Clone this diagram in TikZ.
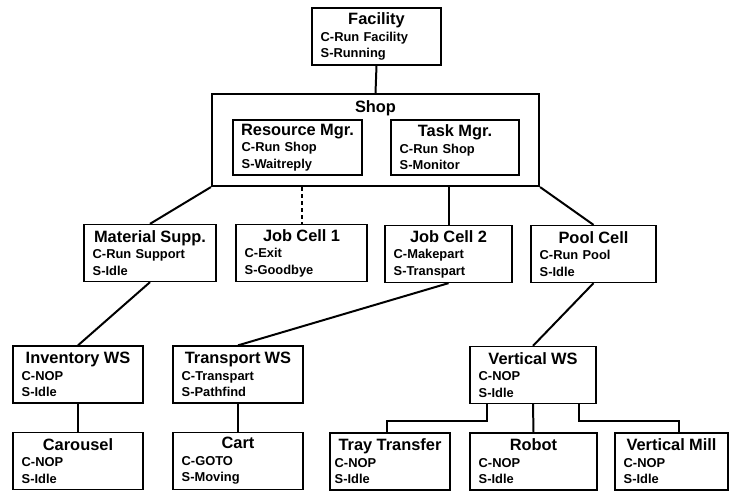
\documentclass[tikz,border=0pt]{standalone}
\usepackage{fontspec}
\setmainfont{Liberation Sans}
\newcommand{\ttlfont}{\fontsize{14}{16}\selectfont\bfseries}
\newcommand{\unitbody}[3]{\makebox[\linewidth][c]{\ttlfont #1}\\#2\\#3}
\tikzset{
  unit/.style={draw, line width=1.4pt, align=left, text width=#1, inner xsep=0.26cm,
    inner ysep=0pt, minimum height=1.7cm, font=\fontsize{11}{14}\selectfont\bfseries},
  unit/.default=3.35cm,
  link/.style={line width=1.7pt}
}

\begin{document}
\begin{tikzpicture}[x=0.03cm, y=-0.03cm]
\useasboundingbox (0,0) rectangle (731,491);
% top level
\node[unit] (fac) at (376.5,36.5) {\unitbody{Facility}{C-Run Facility}{S-Running}};
\node[draw, line width=1.8pt, minimum width=9.81cm, minimum height=2.76cm] (shop) at (375.5,140) {};
\node[font=\ttlfont] (shoplbl) at (375.5,108) {Shop};
\node[unit, minimum height=1.65cm] (resmgr) at (297.5,147.5) {\unitbody{Resource Mgr.}{C-Run Shop}{S-Waitreply}};
\node[unit=3.32cm, minimum height=1.65cm] (taskmgr) at (455,147.5) {\unitbody{Task Mgr.}{C-Run Shop}{S-Monitor}};
% cells
\node[unit=3.44cm] (matsupp) at (150,253) {\unitbody{Material Supp.}{C-Run Support}{S-Idle}};
\node[unit=3.41cm] (cell1) at (301.5,253) {\unitbody{Job Cell 1}{C-Exit}{S-Goodbye}};
\node[unit=3.29cm] (cell2) at (448.5,254) {\unitbody{Job Cell 2}{C-Makepart}{S-Transpart}};
\node[unit=3.23cm] (pool) at (593.5,254) {\unitbody{Pool Cell}{C-Run Pool}{S-Idle}};
% workstations
\node[unit=3.38cm] (invws) at (78,374.5) {\unitbody{Inventory WS}{C-NOP}{S-Idle}};
\node[unit=3.38cm] (transws) at (238,374.5) {\unitbody{Transport WS}{C-Transpart}{S-Pathfind}};
\node[unit=3.26cm] (vertws) at (533,375) {\unitbody{Vertical WS}{C-NOP}{S-Idle}};
% equipment
\node[unit=3.38cm] (carousel) at (78,461) {\unitbody{Carousel}{C-NOP}{S-Idle}};
\node[unit=3.38cm] (cart) at (238,461) {\unitbody{Cart}{C-GOTO}{S-Moving}};
\node[unit=3.32cm, inner xsep=0.14cm] (tray) at (390,461.5) {\unitbody{Tray Transfer}{C-NOP}{S-Idle}};
\node[unit=3.29cm] (robot) at (533.5,461.5) {\unitbody{Robot}{C-NOP}{S-Idle}};
\node[unit=2.87cm] (mill) at (671.5,461.5) {\unitbody{Vertical Mill}{C-NOP}{S-Idle}};
% links
\draw[link] (fac.south) -- (shop.north);
\draw[link] (shop.south west) -- (matsupp.north);
\draw[link, dashed] (cell1.north |- shop.south) -- (cell1.north);
\draw[link] (cell2.north |- shop.south) -- (cell2.north);
\draw[link] (shop.south east) -- (pool.north);
\draw[link] (matsupp.south) -- (invws.north);
\draw[link] (cell2.south) -- (transws.north);
\draw[link] (pool.south) -- (vertws.north);
\draw[link] (invws.south) -- (carousel.north);
\draw[link] (transws.south) -- (cart.north);
\draw[link] (vertws.south) -- (robot.north);
\draw[link] ([xshift=-1.38cm]vertws.south) -- ++(0,17) -| ([xshift=-0.09cm]tray.north);
\draw[link] ([xshift=1.38cm]vertws.south) -- ++(0,17) -| ([xshift=0.21cm]mill.north);
\end{tikzpicture}
\end{document}
